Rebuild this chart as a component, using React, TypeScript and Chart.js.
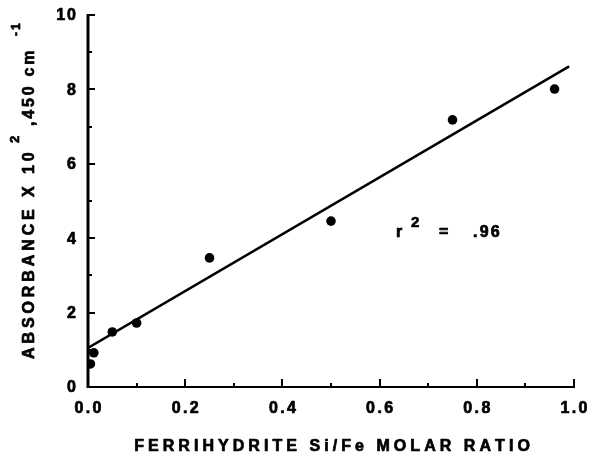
import React, { useEffect, useRef } from 'react';
import { Chart, registerables } from 'chart.js';

Chart.register(...registerables);

// ---- data ----
const ratioX = [0.005, 0.012, 0.05, 0.1, 0.25, 0.5, 0.75, 0.96];
const absorbance = [0.62, 0.92, 1.48, 1.72, 3.47, 4.46, 7.18, 8.01];
const fitX = [0, 0.99];
const fitY = [1.05, 8.62];
const xTickValues = [0, 0.2, 0.4, 0.6, 0.8, 1.0];
const xTickLabels = ['0.0', '0.2', '0.4', '0.6', '0.8', '1.0'];
const xMinorTicks = [0.1, 0.3, 0.5, 0.7, 0.9];
const yTickValues = [0, 2, 4, 6, 8, 10];
const yTickLabels = ['0', '2', '4', '6', '8', '10'];
const yMinorTicks = [1, 3, 5, 7, 9];
const xTitle = 'FERRIHYDRITE Si/Fe MOLAR RATIO';
const yTitleParts = ['ABSORBANCE X 10', '2', ',450 cm', '-1'];
const rSquaredParts = ['r', '2', '=', '.96'];

const FONT = '"Liberation Sans", Arial, Helvetica, sans-serif';
const HEAVY = 0.7;

function spacedWidth(ctx: CanvasRenderingContext2D, text: string, sp: number) {
  const chars = Array.from(text);
  let w = 0;
  for (const ch of chars) w += ctx.measureText(ch).width;
  return w + sp * Math.max(0, chars.length - 1);
}

function drawSpaced(ctx: CanvasRenderingContext2D, text: string, x: number, y: number, sp: number) {
  ctx.lineWidth = HEAVY;
  ctx.strokeStyle = '#000';
  ctx.lineJoin = 'round';
  for (const ch of Array.from(text)) {
    ctx.fillText(ch, x, y);
    ctx.strokeText(ch, x, y);
    x += ctx.measureText(ch).width + sp;
  }
  return x - sp;
}

const axesPlugin = {
  id: 'paperAxes',
  beforeDraw(chart: any) {
    const ctx = chart.ctx as CanvasRenderingContext2D;
    ctx.save();
    ctx.fillStyle = '#fff';
    ctx.fillRect(0, 0, chart.width, chart.height);
    ctx.restore();
  },
  beforeDatasetsDraw(chart: any) {
    const ctx = chart.ctx as CanvasRenderingContext2D;
    const xs = chart.scales.x;
    const ys = chart.scales.y;
    const left = xs.getPixelForValue(0);
    const right = xs.getPixelForValue(1);
    const bottom = ys.getPixelForValue(0);
    const top = ys.getPixelForValue(10);
    ctx.save();
    ctx.strokeStyle = '#000';
    ctx.lineCap = 'butt';
    // y axis
    ctx.lineWidth = 3;
    ctx.beginPath();
    ctx.moveTo(left, top - 1);
    ctx.lineTo(left, bottom + 1);
    ctx.stroke();
    // x axis
    ctx.lineWidth = 2;
    ctx.beginPath();
    ctx.moveTo(left, bottom);
    ctx.lineTo(right + 1, bottom);
    ctx.stroke();
    // y ticks
    ctx.lineWidth = 2;
    for (const v of yTickValues) {
      if (v === 0) continue;
      const p = Math.round(ys.getPixelForValue(v));
      ctx.beginPath();
      ctx.moveTo(left, p);
      ctx.lineTo(left + 7, p);
      ctx.stroke();
    }
    for (const v of yMinorTicks) {
      const p = Math.round(ys.getPixelForValue(v));
      ctx.beginPath();
      ctx.moveTo(left, p);
      ctx.lineTo(left + 4, p);
      ctx.stroke();
    }
    // x ticks
    for (const v of xTickValues) {
      if (v === 0) continue;
      const p = Math.round(xs.getPixelForValue(v));
      ctx.beginPath();
      ctx.moveTo(p, bottom);
      ctx.lineTo(p, bottom - 8);
      ctx.stroke();
    }
    for (const v of xMinorTicks) {
      const p = Math.round(xs.getPixelForValue(v));
      ctx.beginPath();
      ctx.moveTo(p, bottom);
      ctx.lineTo(p, bottom - 4);
      ctx.stroke();
    }
    ctx.restore();
  },
  afterDraw(chart: any) {
    const ctx = chart.ctx as CanvasRenderingContext2D;
    const xs = chart.scales.x;
    const ys = chart.scales.y;
    const area = chart.chartArea;
    ctx.save();
    ctx.fillStyle = '#000';
    ctx.textAlign = 'left';

    // tick labels
    ctx.font = `bold 16px ${FONT}`;
    ctx.textBaseline = 'alphabetic';
    xTickValues.forEach((v, i) => {
      const t = xTickLabels[i];
      const w = spacedWidth(ctx, t, 2.4);
      drawSpaced(ctx, t, xs.getPixelForValue(v) - w / 2, area.bottom + 26, 2.4);
    });
    ctx.textBaseline = 'middle';
    yTickValues.forEach((v, i) => {
      const t = yTickLabels[i];
      const w = spacedWidth(ctx, t, 2);
      drawSpaced(ctx, t, area.left - 12 - w, ys.getPixelForValue(v) + 1, 2);
    });

    // x title
    ctx.textBaseline = 'alphabetic';
    ctx.font = `bold 16px ${FONT}`;
    const xw = spacedWidth(ctx, xTitle, 4.05);
    drawSpaced(ctx, xTitle, (area.left + area.right) / 2 - xw / 2 + 1, area.bottom + 64, 4.05);

    // y title (rotated)
    ctx.save();
    ctx.translate(34, 0);
    ctx.rotate(-Math.PI / 2);
    ctx.font = `bold 16px ${FONT}`;
    drawSpaced(ctx, yTitleParts[0], -359, 0, 3.9);
    ctx.font = `bold 13px ${FONT}`;
    drawSpaced(ctx, yTitleParts[1], -143, -15, 0);
    ctx.font = `bold 16px ${FONT}`;
    drawSpaced(ctx, yTitleParts[2], -126, 0, 2.8);
    ctx.font = `bold 12px ${FONT}`;
    drawSpaced(ctx, yTitleParts[3], -36, -14, 2);
    ctx.restore();

    // r^2 annotation
    const rx = xs.getPixelForValue(0.636);
    const ry = ys.getPixelForValue(4.03);
    ctx.font = `bold 16px ${FONT}`;
    drawSpaced(ctx, rSquaredParts[0], rx - 1, ry, 0);
    ctx.font = `bold 15px ${FONT}`;
    drawSpaced(ctx, rSquaredParts[1], rx + 14, ry - 10, 0);
    ctx.font = `bold 16px ${FONT}`;
    drawSpaced(ctx, rSquaredParts[2], rx + 42, ry, 0);
    drawSpaced(ctx, rSquaredParts[3], rx + 76, ry, 2.2);
    ctx.restore();
  },
};

export default function App() {
  const canvasRef = useRef<HTMLCanvasElement | null>(null);

  useEffect(() => {
    const canvas = canvasRef.current;
    if (!canvas) return;
    const points = ratioX.map((x, i) => ({ x, y: absorbance[i] }));
    const fit = fitX.map((x, i) => ({ x, y: fitY[i] }));
    const chart = new Chart(canvas, {
      type: 'scatter',
      data: {
        datasets: [
          {
            type: 'line',
            data: fit,
            borderColor: '#000',
            borderWidth: 2.5,
            pointRadius: 0,
            fill: false,
            tension: 0,
          } as any,
          {
            type: 'scatter',
            data: points,
            backgroundColor: '#000',
            borderColor: '#000',
            borderWidth: 0,
            pointRadius: 4.8,
            pointHoverRadius: 4.8,
          } as any,
        ],
      },
      options: {
        responsive: false,
        animation: false,
        events: [],
        layout: { padding: { left: 88, right: 16, top: 15, bottom: 66 } },
        plugins: {
          legend: { display: false },
          tooltip: { enabled: false },
          title: { display: false },
        },
        scales: {
          x: { type: 'linear', min: 0, max: 1, display: false },
          y: { type: 'linear', min: 0, max: 10, display: false },
        },
      },
      plugins: [axesPlugin],
    });
    return () => chart.destroy();
  }, []);

  return (
    <div style={{ position: 'absolute', left: 0, top: 0, width: 590, height: 453, background: '#fff' }}>
      <canvas ref={canvasRef} width={590} height={453} style={{ display: 'block' }} />
    </div>
  );
}
